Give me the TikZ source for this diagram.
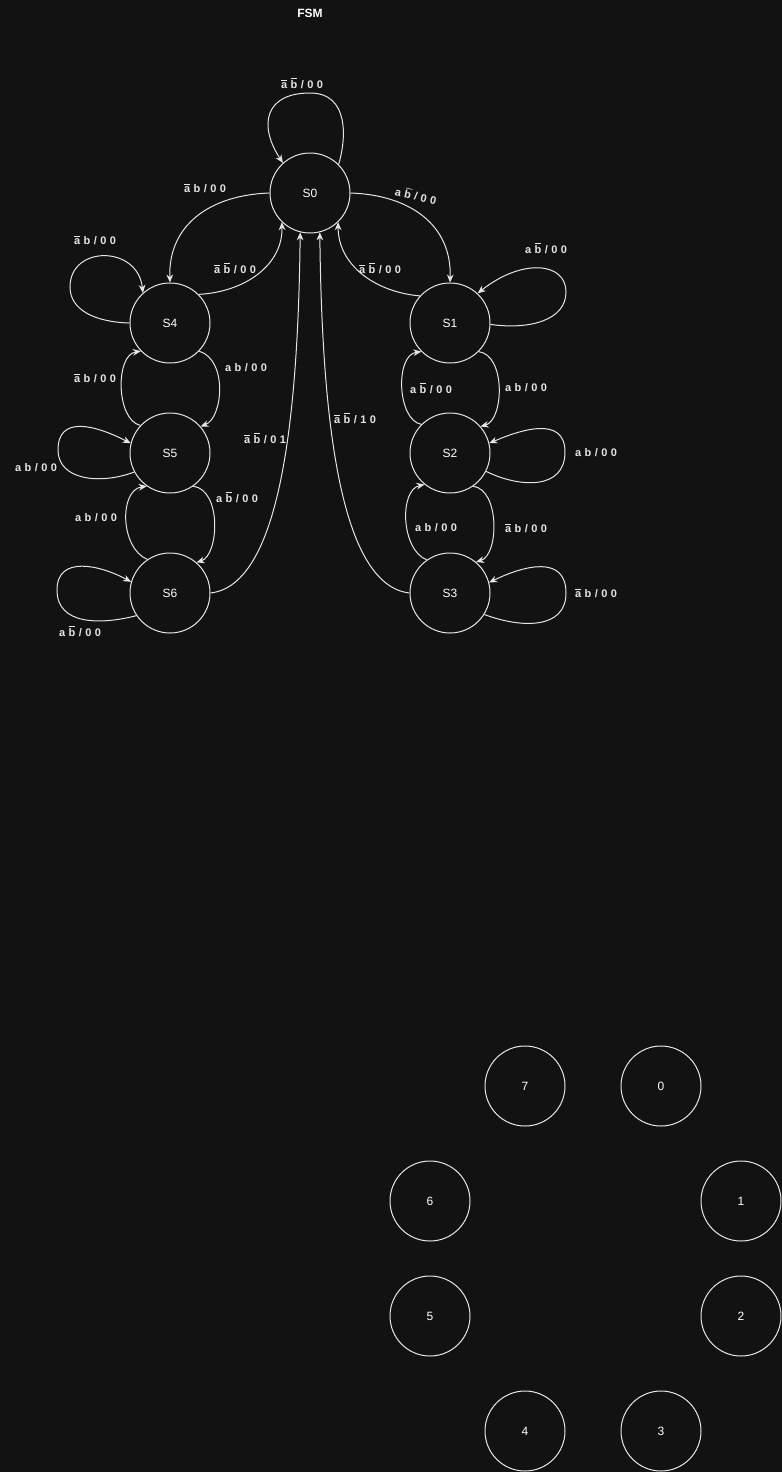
\documentclass[tikz,border=0pt]{standalone}
\usepackage{fontspec}
\setmainfont{Liberation Sans}
\usetikzlibrary{arrows.meta}
\definecolor{bg}{HTML}{121212}
\definecolor{fg}{HTML}{E6E6E6}
\newcommand\gp{\hspace{2.6pt}}
\newcommand\ovl[1]{$\overline{\mbox{#1}}$}
\begin{document}
\begin{tikzpicture}[x=0.75pt,y=-0.75pt,
  state/.style={circle,draw=fg,line width=0.75pt,minimum size=60pt,inner sep=0pt,text=white,font=\fontsize{9}{10}\selectfont},
  edge/.style={draw=fg,line width=0.75pt,-{Stealth[length=6pt,width=5pt]}},
  lbl/.style={text=fg,font=\bfseries\fontsize{8.25}{9}\selectfont,inner sep=0pt},
  ttl/.style={text=white,font=\bfseries\fontsize{9}{10}\selectfont,inner sep=0pt}]
\fill[bg] (0,0) rectangle (782,1472);
\useasboundingbox (0,0) rectangle (782,1472);
\node[ttl] (title) at (310,13) {FSM};
% states
\node[state] (S0) at (310,193) {S0};
\node[state] (S4) at (170,323) {S4};
\node[state] (S1) at (450,323) {S1};
\node[state] (S5) at (170,453) {S5};
\node[state] (S2) at (450,453) {S2};
\node[state] (S6) at (170,593) {S6};
\node[state] (S3) at (450,593) {S3};
% bottom circles
\node[state] (c7) at (525,1086) {7};
\node[state] (c0) at (661,1086) {0};
\node[state] (c6) at (430,1201) {6};
\node[state] (c1) at (741,1201) {1};
\node[state] (c5) at (430,1316) {5};
\node[state] (c2) at (741,1316) {2};
\node[state] (c4) at (525,1431) {4};
\node[state] (c3) at (661,1431) {3};
% edges
\draw[edge] (S0.45) .. controls (346,140) and (350,93) .. (310,93) .. controls (265,93) and (258,125) .. (S0.132);
\draw[edge] (S0.west) .. controls (210,195) and (168,225) .. (S4.north);
\draw[edge] (S4.45) .. controls (245,292) and (283,265) .. (S0.226);
\draw[edge] (S0.east) .. controls (410,195) and (452,225) .. (S1.north);
\draw[edge] (S1.138) .. controls (375,292) and (338,265) .. (S0.314);
\draw[edge] (S1.-2) .. controls (530,330) and (566,320) .. (566,292) .. controls (566,262) and (522,258) .. (S1.47);
\draw[edge] (S4.west) .. controls (95,322) and (70,310) .. (70,287) .. controls (70,245) and (138,245) .. (S4.132);
\draw[edge] (S4.-44) .. controls (228,360) and (223,418) .. (S5.41);
\draw[edge] (S5.137) .. controls (116,420) and (115,355) .. (S4.224);
\draw[edge] (S5.208) .. controls (100,485) and (58,480) .. (58,450) .. controls (58,415) and (95,425) .. (S5.166);
\draw[edge] (S5.-55) .. controls (222,490) and (219,555) .. (S6.49);
\draw[edge] (S6.124) .. controls (120,548) and (119,490) .. (S5.235);
\draw[edge] (S6.214) .. controls (100,625) and (57,625) .. (57,590) .. controls (57,555) and (100,565) .. (S6.164);
\draw[edge] (S6.east) .. controls (280,585) and (298,420) .. (S0.256);
\draw[edge] (S3.west) .. controls (340,585) and (322,420) .. (S0.284);
\draw[edge] (S1.-45) .. controls (506,355) and (504,420) .. (S2.41);
\draw[edge] (S2.135) .. controls (397,420) and (395,355) .. (S1.225);
\draw[edge] (S2.-27) .. controls (520,488) and (565,490) .. (565,452) .. controls (565,415) and (520,430) .. (S2.14);
\draw[edge] (S2.-55) .. controls (500,490) and (499,555) .. (S3.50);
\draw[edge] (S3.125) .. controls (401,550) and (399,490) .. (S2.231);
\draw[edge] (S3.-32) .. controls (520,628) and (566,630) .. (566,593) .. controls (566,555) and (525,565) .. (S3.15);
% labels
\node[lbl] (l1) at (302,83) {\ovl{a}\gp\ovl{b}\gp/\gp0\gp0};
\node[lbl] (l2) at (205,188) {\ovl{a}\gp b\gp/\gp0\gp0};
\node[lbl,rotate=-13] (l3) at (416,195) {a\gp\ovl{b}\gp/\gp0\gp0};
\node[lbl] (l4) at (95,240) {\ovl{a}\gp b\gp/\gp0\gp0};
\node[lbl] (l5) at (235,268) {\ovl{a}\gp\ovl{b}\gp/\gp0\gp0};
\node[lbl] (l6) at (95,378) {\ovl{a}\gp b\gp/\gp0\gp0};
\node[lbl] (l7) at (246,368) {a\gp b\gp/\gp0\gp0};
\node[lbl] (l8) at (380,268) {\ovl{a}\gp\ovl{b}\gp/\gp0\gp0};
\node[lbl] (l9) at (546,248) {a\gp\ovl{b}\gp/\gp0\gp0};
\node[lbl] (l10) at (431,388) {a\gp\ovl{b}\gp/\gp0\gp0};
\node[lbl] (l11) at (526,388) {a\gp b\gp/\gp0\gp0};
\node[lbl] (l12) at (355,418) {\ovl{a}\gp\ovl{b}\gp/\gp1\gp0};
\node[lbl] (l13) at (596,453) {a\gp b\gp/\gp0\gp0};
\node[lbl] (l14) at (436,528) {a\gp b\gp/\gp0\gp0};
\node[lbl] (l15) at (526,528) {\ovl{a}\gp b\gp/\gp0\gp0};
\node[lbl] (l16) at (596,593) {\ovl{a}\gp b\gp/\gp0\gp0};
\node[lbl] (l17) at (265,438) {\ovl{a}\gp\ovl{b}\gp/\gp0\gp1};
\node[lbl] (l18) at (36,468) {a\gp b\gp/\gp0\gp0};
\node[lbl] (l19) at (237,497) {a\gp\ovl{b}\gp/\gp0\gp0};
\node[lbl] (l20) at (96,518) {a\gp b\gp/\gp0\gp0};
\node[lbl] (l21) at (80,631) {a\gp\ovl{b}\gp/\gp0\gp0};
\end{tikzpicture}
\end{document}
